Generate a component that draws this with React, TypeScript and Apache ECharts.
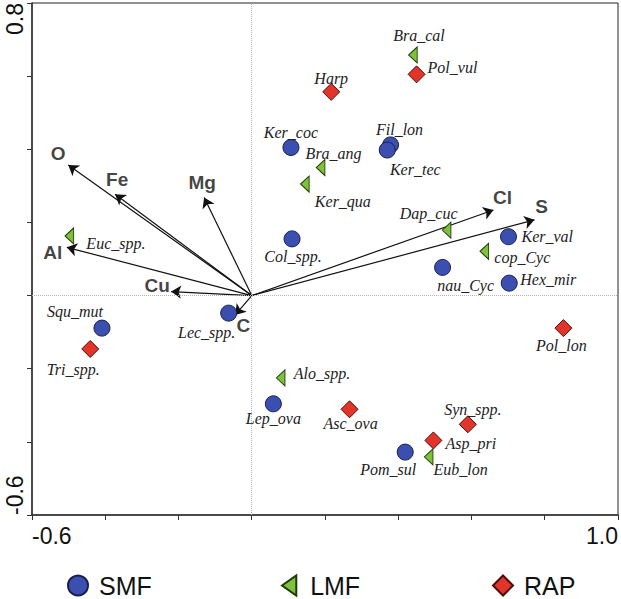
import React, { useEffect, useRef } from "react";
import * as echarts from "echarts";

// ---- data ----
const smfNames = ["Ker_coc", "Col_spp.", "Fil_lon", "Ker_tec", "Ker_val", "nau_Cyc", "Hex_mir", "Squ_mut", "Lec_spp.", "Lep_ova", "Pom_sul"];
const smfX = [0.107, 0.11, 0.379, 0.37, 0.701, 0.521, 0.703, -0.409, -0.063, 0.059, 0.419];
const smfY = [0.405, 0.155, 0.412, 0.398, 0.161, 0.077, 0.034, -0.089, -0.048, -0.296, -0.428];

const lmfNames = ["Euc_spp.", "Bra_ang", "Ker_qua", "Bra_cal", "Dap_cuc", "cop_Cyc", "Alo_spp.", "Eub_lon"];
const lmfX = [-0.498, 0.188, 0.145, 0.44, 0.532, 0.635, 0.079, 0.483];
const lmfY = [0.163, 0.35, 0.305, 0.658, 0.179, 0.121, -0.225, -0.441];

const rapNames = ["Harp", "Pol_vul", "Tri_spp.", "Pol_lon", "Asc_ova", "Syn_spp.", "Asp_pri"];
const rapX = [0.217, 0.45, -0.441, 0.851, 0.267, 0.59, 0.496];
const rapY = [0.557, 0.605, -0.146, -0.089, -0.311, -0.352, -0.396];

const envNames = ["O", "Fe", "Mg", "Al", "Cu", "C", "Cl", "S"];
const envX = [-0.501, -0.373, -0.13, -0.505, -0.22, -0.045, 0.66, 0.772];
const envY = [0.357, 0.277, 0.268, 0.132, 0.011, -0.053, 0.234, 0.207];

const groupNames = ["SMF", "LMF", "RAP"];
const xTickMin = -0.6;
const xTickMax = 1.0;
const yTickMin = -0.6;
const yTickMax = 0.8;

// ---- label layout (pixel offsets from point centre) ----
const speciesLabelLayout: Record<string, [number, number, string]> = {
  Ker_coc: [0, -15, "center"],
  "Col_spp.": [1, 18, "center"],
  Fil_lon: [9, -15, "center"],
  Ker_tec: [28, 19, "center"],
  Ker_val: [13, 0, "left"],
  nau_Cyc: [23, 18, "center"],
  Hex_mir: [11, -4, "left"],
  Squ_mut: [-27, -17, "center"],
  "Lec_spp.": [-22, 19, "center"],
  Lep_ova: [0, 15, "center"],
  Pom_sul: [-17, 17, "center"],
  "Euc_spp.": [17, 8, "left"],
  Bra_ang: [13, -14, "center"],
  Ker_qua: [38, 17, "center"],
  Bra_cal: [6, -19, "center"],
  Dap_cuc: [-18, -17, "center"],
  cop_Cyc: [10, 6, "left"],
  "Alo_spp.": [13, -4, "left"],
  Eub_lon: [32, 13, "center"],
  Harp: [0, -13, "center"],
  Pol_vul: [11, -7, "left"],
  "Tri_spp.": [-17, 21, "center"],
  Pol_lon: [-2, 17, "center"],
  Asc_ova: [1, 14, "center"],
  "Syn_spp.": [5, -15, "center"],
  Asp_pri: [12, 3, "left"],
};

const envLabelLayout: Record<string, [number, number]> = {
  O: [-10, -12],
  Fe: [2, -15],
  Mg: [-2, -15],
  Al: [-14, 5],
  Cu: [-14, -6],
  C: [8, 11],
  Cl: [9, -12],
  S: [7, -13],
};

const legendLefts = [67, 281, 492];

const BLUE = "#3a4fb0";
const GREEN = "#7dc23a";
const RED = "#e3342a";
const TRI_LEFT = "path://M0,7 L10,0 L10,14 Z";
const DIAMOND = "path://M5,0 L10,5 L5,10 L0,5 Z";
const legendIcons = ["circle", TRI_LEFT, DIAMOND];

function speciesData(names: string[], xs: number[], ys: number[]) {
  return names.map((n, i) => {
    const l = speciesLabelLayout[n] || [0, -14, "center"];
    return {
      name: n,
      value: [xs[i], ys[i]],
      label: { offset: [l[0], l[1]], align: l[2] },
    };
  });
}

const speciesLabel = {
  show: true,
  position: "inside",
  formatter: "{b}",
  fontFamily: "Liberation Serif",
  fontStyle: "italic",
  fontSize: 16,
  color: "#222",
  verticalAlign: "middle",
};

export default function App() {
  const ref = useRef<HTMLDivElement>(null);
  useEffect(() => {
    if (!ref.current) return;
    const chart = echarts.init(ref.current, null, { renderer: "svg" });
    const isEnd = (v: number, a: number, b: number) => Math.abs(v - a) < 1e-6 || Math.abs(v - b) < 1e-6;
    chart.setOption({
      animation: false,
      backgroundColor: "#ffffff",
      grid: {
        left: 32,
        right: 3,
        top: 2,
        bottom: 84,
        show: true,
        borderColor: "#222",
        borderWidth: 1,
        backgroundColor: "transparent",
      },
      legend: groupNames.map((g, i) => ({
        data: [{ name: g, icon: legendIcons[i] }],
        left: legendLefts[i],
        bottom: 1,
        padding: 0,
        itemWidth: 32,
        itemHeight: 20,
        selectedMode: false,
        textStyle: { fontFamily: "Liberation Sans", fontSize: 25, color: "#111" },
      })),
      xAxis: {
        type: "value",
        min: xTickMin,
        max: xTickMax,
        interval: 0.2,
        axisLine: { show: true, onZero: false, lineStyle: { color: "#333", width: 1.5 } },
        axisTick: { show: true, inside: false, length: 5, lineStyle: { color: "#333" } },
        splitLine: { show: false },
        axisLabel: {
          margin: 9,
          fontFamily: "Liberation Sans",
          fontSize: 23,
          color: "#111",
          showMinLabel: true,
          showMaxLabel: true,
          alignMinLabel: "left",
          alignMaxLabel: "right",
          formatter: (v: number) => (isEnd(v, xTickMin, xTickMax) ? v.toFixed(1) : ""),
        },
      },
      yAxis: {
        type: "value",
        min: yTickMin,
        max: yTickMax,
        interval: 0.2,
        axisLine: { show: true, onZero: false, lineStyle: { color: "#333", width: 1.5 } },
        axisTick: { show: true, inside: false, length: 5, lineStyle: { color: "#333" } },
        splitLine: { show: false },
        axisLabel: {
          margin: 6,
          rotate: 90,
          fontFamily: "Liberation Sans",
          fontSize: 23,
          color: "#111",
          showMinLabel: true,
          showMaxLabel: true,
          alignMinLabel: "left",
          alignMaxLabel: "right",
          formatter: (v: number) => (isEnd(v, yTickMin, yTickMax) ? v.toFixed(1) : ""),
        },
      },
      series: [
        {
          type: "scatter",
          name: "zero",
          data: [],
          silent: true,
          markLine: {
            silent: true,
            symbol: "none",
            label: { show: false },
            lineStyle: { color: "#b5b5b5", type: "dotted", width: 1 },
            data: [{ xAxis: 0 }, { yAxis: 0 }],
          },
        },
        {
          type: "lines",
          name: "env",
          coordinateSystem: "cartesian2d",
          symbol: ["none", "arrow"],
          symbolSize: [0, 10],
          lineStyle: { color: "#111", width: 1.2, opacity: 1, curveness: 0 },
          data: envNames.map((n, i) => ({ name: n, coords: [[0, 0], [envX[i], envY[i]]] })),
          z: 3,
        },
        {
          type: "scatter",
          name: "envLabels",
          symbolSize: 1,
          itemStyle: { color: "transparent" },
          silent: true,
          data: envNames.map((n, i) => ({
            name: n,
            value: [envX[i], envY[i]],
            label: { offset: envLabelLayout[n] },
          })),
          label: {
            show: true,
            position: "inside",
            formatter: "{b}",
            fontFamily: "Liberation Sans",
            fontWeight: "bold",
            fontSize: 19,
            color: "#111",
            align: "center",
            verticalAlign: "middle",
          },
          z: 4,
        },
        {
          type: "scatter",
          name: "SMF",
          symbol: "circle",
          symbolSize: 16,
          itemStyle: { color: BLUE, borderColor: "#1a1f4a", borderWidth: 1, opacity: 1 },
          data: speciesData(smfNames, smfX, smfY),
          label: speciesLabel,
          z: 5,
        },
        {
          type: "scatter",
          name: "LMF",
          symbol: TRI_LEFT,
          symbolSize: [12, 16],
          symbolKeepAspect: true,
          itemStyle: { color: GREEN, borderColor: "#1f3a0a", borderWidth: 1, opacity: 1 },
          data: speciesData(lmfNames, lmfX, lmfY),
          label: speciesLabel,
          z: 5,
        },
        {
          type: "scatter",
          name: "RAP",
          symbol: "diamond",
          symbolSize: 17,
          itemStyle: { color: RED, borderColor: "#4a0e0a", borderWidth: 1, opacity: 1 },
          data: speciesData(rapNames, rapX, rapY),
          label: speciesLabel,
          z: 5,
        },
      ],
    });
    return () => chart.dispose();
  }, []);
  return (
    <div
      ref={ref}
      style={{ position: "fixed", left: 0, top: 0, width: 621, height: 599, background: "#fff" }}
    />
  );
}
